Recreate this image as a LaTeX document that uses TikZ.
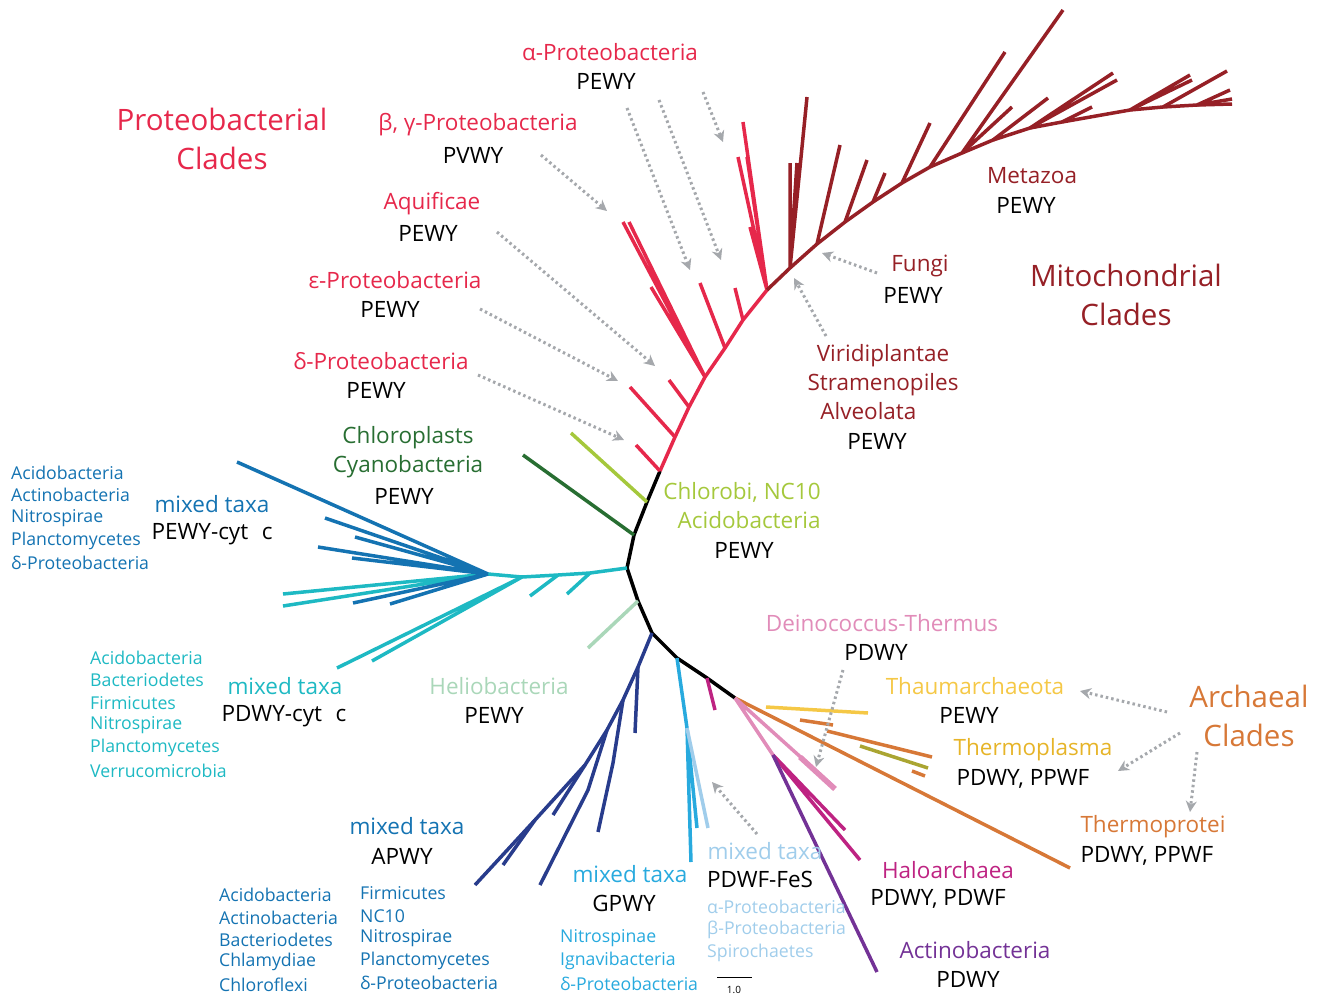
\documentclass[tikz,border=0pt]{standalone}
\usepackage{fontspec}
\setmainfont{Open Sans}
\usetikzlibrary{arrows.meta}
\definecolor{protred}{RGB}{230,40,75}
\definecolor{mitored}{RGB}{150,32,38}
\definecolor{chlorogreen}{RGB}{40,110,50}
\definecolor{limegreen}{RGB}{165,200,60}
\definecolor{heliomint}{RGB}{170,215,185}
\definecolor{cytblue}{RGB}{20,115,178}
\definecolor{cytcyan}{RGB}{30,185,195}
\definecolor{navy}{RGB}{40,60,140}
\definecolor{skyblue}{RGB}{40,170,222}
\definecolor{paleblue}{RGB}{160,205,235}
\definecolor{deinopink}{RGB}{225,140,185}
\definecolor{halomag}{RGB}{190,35,130}
\definecolor{actpurple}{RGB}{115,50,150}
\definecolor{archorange}{RGB}{215,120,55}
\definecolor{thaumyellow}{RGB}{245,200,70}
\definecolor{plasmaolive}{RGB}{170,165,50}
\definecolor{plasmagold}{RGB}{230,180,40}
\definecolor{ptrgray}{RGB}{165,168,172}

\begin{document}
\begin{tikzpicture}[x=1pt,y=-1pt,
  br/.style={line width=3.5pt},%tree branch
  tx/.style={font=\fontsize{22.5}{29}\selectfont,inner sep=0pt},
  big/.style={font=\fontsize{29.5}{39}\selectfont,inner sep=0pt},
  sm/.style={font=\fontsize{17.7}{20}\selectfont,inner sep=0pt,anchor=west},
  ptr/.style={ptrgray,line width=3pt,dash pattern=on 2.5pt off 3pt,
              -{Stealth[length=11pt,width=11pt,inset=3.5pt]}}
  ]
\useasboundingbox (0,0) rectangle (1320,996);

% backbone
\coordinate (r0) at (660,471);
\coordinate (r1) at (647,502);
\coordinate (r2) at (634,535);
\coordinate (r3) at (627,568);
\coordinate (r4) at (638,601);
\coordinate (r5) at (652,633);
\coordinate (r6) at (677,658);
\coordinate (r7) at (707,678);
\coordinate (r8) at (735,698);
\draw[br,black,line join=round] (r0)--(r1)--(r2)--(r3)--(r4)--(r5)--(r6)--(r7)--(r8);

% proteobacteria
\coordinate (p1) at (675,437);
\coordinate (p2) at (689,407);
\coordinate (p3) at (705,377);
\coordinate (p4) at (725,348);
\coordinate (p5) at (743,320);
\coordinate (p6) at (767,290);
\draw[br,protred] (r0)--(p1)--(p2)--(p3)--(p4)--(p5)--(p6);
\draw[br,protred] (r0)--(636,445) (p1)--(630,387) (p2)--(669,380)
  (p3)--(623,222) (p3)--(629,222) (p3)--(651,287) (p4)--(700,283) (p5)--(735,288)
  (p6)--(743,122) (p6)--(738,157) (p6)--(747,157) (p6)--(750,227);

% mitochondria
\coordinate (m0) at (790,268);
\coordinate (m1) at (817,244);
\coordinate (m2) at (845,222);
\coordinate (m3) at (873,202);
\coordinate (m4) at (902,183);
\coordinate (m5) at (930,167);
\coordinate (m6) at (962,153);
\coordinate (m7) at (993,140);
\coordinate (m8) at (1030,128);
\coordinate (m9) at (1062,122);
\coordinate (m10) at (1130,110);
\coordinate (m11) at (1163,107);
\coordinate (m12) at (1197,105);
\draw[br,mitored] (p6)--(m0)--(m1)--(m2)--(m3)--(m4)--(m5)--(m6)--(m7)--(m8)--(m9)
  --(m10)--(m11)--(m12)--(1232,104);
\draw[br,mitored] (m0)--(807,97) (m0)--(790,163) (m0)--(797,163)
  (m1)--(840,145) (m2)--(867,160) (m3)--(885,173) (m4)--(930,123)
  (m5)--(1005,52) (m6)--(1063,10) (m6)--(1012,107) (m7)--(1048,98)
  (m8)--(1113,73) (m8)--(1117,80) (m9)--(1092,107)
  (m10)--(1190,75) (m10)--(1192,80) (m11)--(1227,71) (m12)--(1230,90)
  (m12)--(1232,99);

% greens
\draw[br,chlorogreen] (r2)--(523,455);
\draw[br,limegreen] (r1)--(571,433);
\draw[br,heliomint] (r4)--(588,648);

% cytochrome c groups
\coordinate (c1) at (590,573);
\coordinate (c2) at (558,575);
\coordinate (c3) at (522,577);
\coordinate (cj) at (488,574);
\draw[br,cytcyan] (r3)--(c1)--(c2)--(c3)--(cj);
\draw[br,cytcyan] (c1)--(567,594) (c2)--(530,596) (c3)--(337,668) (c3)--(372,661)
  (cj)--(283,594) (cj)--(283,606);
\draw[br,cytblue] (cj)--(237,462) (cj)--(325,518) (cj)--(355,537) (cj)--(318,547)
  (cj)--(352,558) (cj)--(353,603) (cj)--(390,604);

% APWY
\coordinate (n1) at (638,667);
\coordinate (n2) at (623,700);
\coordinate (n3) at (607,730);
\coordinate (n4) at (585,765);
\coordinate (n5) at (535,820);
\draw[br,navy] (r5)--(n1)--(n2)--(n3)--(n4)--(n5)--(475,885);
\draw[br,navy] (n1)--(635,733) (n2)--(613,763)--(598,832) (n3)--(588,790)--(540,885)
  (n4)--(553,815) (n5)--(503,865);

% GPWY, PDWF-FeS
\coordinate (g1) at (687,728);
\draw[br,skyblue] (r6)--(g1)--(691,862) (g1)--(697,828);
\draw[br,paleblue] (g1)--(708,828);
\draw[br,halomag] (r7)--(715,710);

% archaea and others
\coordinate (h0) at (773,755);
\draw[br,archorange] (r8)--(1070,868);
\draw[br,thaumyellow] (766,707)--(868,713);
\draw[br,archorange] (800,720)--(833,725) (827,731)--(932,757) (912,771)--(925,776);
\draw[br,plasmaolive] (860,746)--(928,768);
\draw[br,deinopink] (r8)--(835,788) (r8)--(h0);
\draw[line width=5.5pt,deinopink] (800,757)--(835,789);
\draw[br,halomag] (h0)--(860,860) (h0)--(845,830);
\draw[br,actpurple] (h0)--(877,972);

% labels
\node[big,protred,align=center] (protclade) at (222,139) {Proteobacterial\\Clades};
\node[big,mitored,align=center] (mitoclade) at (1126,295) {Mitochondrial\\Clades};
\node[big,archorange,align=center] (archclade) at (1249,716) {Archaeal\\Clades};

\node[tx,protred] (alpha) at (610,52) {α-Proteobacteria};
\node[tx] (alphaM) at (606,81) {PEWY};
\node[tx,protred] (beta) at (478,125) {β, γ-Proteobacteria};
\node[tx] (betaM) at (473,155) {PVWY};
\node[tx,protred] (aquif) at (432,204) {Aquificae};
\node[tx] (aquifM) at (428,233) {PEWY};
\node[tx,protred] (eps) at (395,280) {ε-Proteobacteria};
\node[tx] (epsM) at (390,309) {PEWY};
\node[tx,protred] (delta) at (381,361) {δ-Proteobacteria};
\node[tx] (deltaM) at (376,390) {PEWY};
\node[tx,chlorogreen,align=center] (chloro) at (408,452) {Chloroplasts\\Cyanobacteria};
\node[tx] (chloroM) at (404,496) {PEWY};
\node[tx,limegreen,align=right] (chlorobi) at (742,506) {Chlorobi, NC10\\Acidobacteria};
\node[tx] (chlorobiM) at (744,550) {PEWY};
\node[tx,mitored] (metaz) at (1032,176) {Metazoa};
\node[tx] (metazM) at (1026,205) {PEWY};
\node[tx,mitored] (fungi) at (920,266) {Fungi};
\node[tx] (fungiM) at (913,295) {PEWY};
\node[tx,mitored,align=center] (plants) at (883,382) {Viridiplantae\\Stramenopiles\\\hspace{-1.3em}Alveolata};
\node[tx] (plantsM) at (877,441) {PEWY};

\node[tx,cytblue] (cytb) at (212,504) {mixed taxa};
\node[tx] (cytbM) at (212,534) {PEWY-cyt\hspace{0.6em}c};
\node[tx,cytcyan] (cytc) at (285,686) {mixed taxa};
\node[tx] (cytcM) at (284,716) {PDWY-cyt\hspace{0.6em}c};
\node[tx,heliomint] (helio) at (499,686) {Heliobacteria};
\node[tx] (helioM) at (494,715) {PEWY};
\node[tx,cytblue] (apwy) at (407,826) {mixed taxa};
\node[tx] (apwyM) at (402,856) {APWY};
\node[tx,skyblue] (gpwy) at (630,874) {mixed taxa};
\node[tx] (gpwyM) at (624,903) {GPWY};
\node[tx,paleblue] (fes) at (765,851) {mixed taxa};
\node[tx] (fesM) at (760,879) {PDWF-FeS};

\node[tx,deinopink] (deino) at (882,623) {Deinococcus-Thermus};
\node[tx] (deinoM) at (876,652) {PDWY};
\node[tx,thaumyellow] (thaum) at (975,686) {Thaumarchaeota};
\node[tx] (thaumM) at (969,715) {PEWY};
\node[tx,plasmagold] (plasma) at (1033,750) {Thermoplasma};
\node[tx] (plasmaM) at (1023,779) {PDWY, PPWF};
\node[tx,archorange] (prot) at (1153,827) {Thermoprotei};
\node[tx] (protM) at (1147,856) {PDWY, PPWF};
\node[tx,halomag] (halo) at (948,870) {Haloarchaea};
\node[tx] (haloM) at (938,899) {PDWY, PDWF};
\node[tx,actpurple] (actino) at (975,950) {Actinobacteria};
\node[tx] (actinoM) at (968,979) {PDWY};

% taxa lists
\foreach \t [count=\i] in {Acidobacteria,Actinobacteria,Nitrospirae,Planctomycetes,δ-Proteobacteria}
  \node[sm,cytblue] (lb\i) at (11,450+22.6*\i) {\t};
\foreach \t [count=\i] in {Acidobacteria,Bacteriodetes,Firmicutes,Nitrospirae,Planctomycetes,Verrucomicrobia}
  \node[sm,cytcyan] (lc\i) at (90,635+22.6*\i) {\t};
\foreach \t [count=\i] in {Acidobacteria,Actinobacteria,Bacteriodetes,Chlamydiae,Chloroflexi}
  \node[sm,cytblue] (la\i) at (219,873+22.3*\i) {\t};
\foreach \t [count=\i] in {Firmicutes,NC10,Nitrospirae,Planctomycetes,δ-Proteobacteria}
  \node[sm,cytblue] (lf\i) at (360,871+22.4*\i) {\t};
\foreach \t [count=\i] in {Nitrospinae,Ignavibacteria,δ-Proteobacteria}
  \node[sm,skyblue] (lg\i) at (560,916+22.5*\i) {\t};
\foreach \t [count=\i] in {α-Proteobacteria,β-Proteobacteria,Spirochaetes}
  \node[sm,paleblue] (lp\i) at (707,884+23*\i) {\t};

% scale bar
\coordinate (sb1) at (717,977);
\coordinate (sb2) at (752,977);
\draw[line width=1pt] (sb1)--(sb2);
\node[font=\fontsize{10}{12}\selectfont,inner sep=0pt] (sbl) at (734,990) {1.0};

% pointers
\foreach \s/\e in {{703,92}/{723,142},{659,100}/{721,260},{627,108}/{690,270},
    {541,155}/{607,211},{497,232}/{655,366},{480,309}/{618,381},{478,375}/{624,440},
    {877,273}/{822,253},{826,336}/{794,278},{843,670}/{816,767},{757,834}/{712,782},
    {1167,712}/{1080,691},{1180,733}/{1118,771},{1197,752}/{1190,812}}
  \draw[ptr] (\s)--(\e);
\end{tikzpicture}
\end{document}
